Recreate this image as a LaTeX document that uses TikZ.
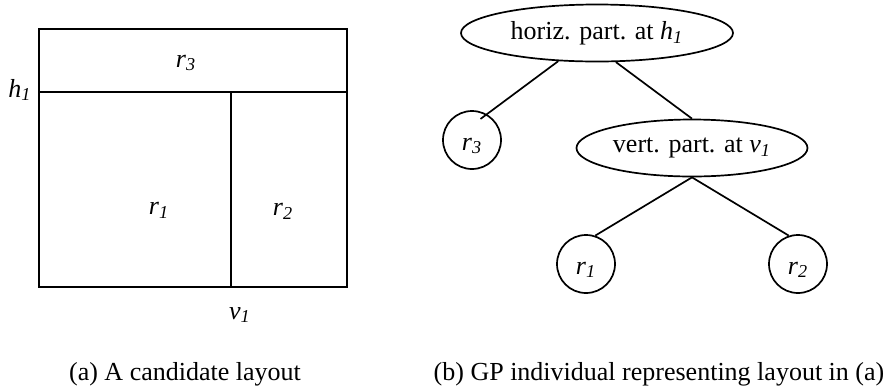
\documentclass[tikz,border=0pt]{standalone}
\usepackage{fontspec}
\setmainfont{Liberation Serif}
\usepackage{tikz}
\usetikzlibrary{shapes.geometric}

\newcommand{\vsub}[2]{\textit{#1}\textsubscript{\textit{#2}}}

\begin{document}
\begin{tikzpicture}[x=0.5pt, y=-0.5pt, font=\fontsize{13}{15}\selectfont,
  splitnode/.style={ellipse, draw, line width=0.85pt, inner sep=0pt, minimum height=28.5pt},
  leaf/.style={circle, draw, line width=0.85pt, minimum size=29pt, inner sep=0pt, text height=1em, text depth=0pt},
  link/.style={line width=0.85pt},
  wall/.style={line width=1.15pt}]
  \useasboundingbox (0,0) rectangle (889,387);

  % Draw the candidate layout
  \draw[wall] (39,29) rectangle (347,287);
  \draw[wall] (39,92) -- (347,92);
  \draw[wall] (231,92) -- (231,287);

  \node (lr3) at (186,63) {\vsub{r}{3}};
  \node (lr1) at (159,210) {\vsub{r}{1}};
  \node (lr2) at (283,211) {\vsub{r}{2}};
  \node (lh1) at (20,90) {\vsub{h}{1}};
  \node (lv1) at (240,315) {\vsub{v}{1}};

  % Draw the GP tree
  \node[splitnode, minimum width=136pt] (hpart) at (597,33) {horiz. part. at \vsub{h}{1}};
  \node[splitnode, minimum width=115.5pt] (vpart) at (692,148) {vert. part. at \vsub{v}{1}};
  \node[leaf] (t3) at (472,140) {\vsub{r}{3}};
  \node[leaf] (t1) at (586,264) {\vsub{r}{1}};
  \node[leaf] (t2) at (798,264) {\vsub{r}{2}};

  \draw[link, shorten >=-4pt] (hpart.216) -- (t3.60);
  \draw[link] (hpart.303) -- (vpart.north);
  \draw[link] (vpart.south) -- (t1.72);
  \draw[link] (vpart.south) -- (t2.108);

  % captions
  \node[anchor=base] (capa) at (185,380) {(a) A candidate layout};
  \node[anchor=base] (capb) at (659,380) {(b) GP individual representing layout in (a)};
\end{tikzpicture}
\end{document}
